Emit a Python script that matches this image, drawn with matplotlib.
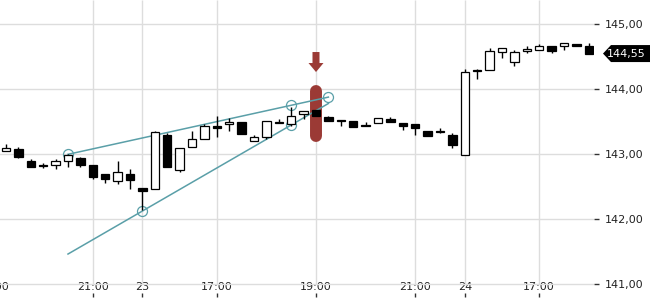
import matplotlib
matplotlib.use("Agg")
import matplotlib.pyplot as plt
import matplotlib.transforms as mtransforms
from matplotlib.patches import Polygon
import numpy as np

# ---- data ----
opens = [143.051, 143.082, 142.897, 142.836, 142.831, 142.892, 142.943, 142.836,
         142.692, 142.585, 142.694, 142.482, 142.459, 143.297, 142.766, 143.105,
         143.231, 143.428, 143.459, 143.492, 143.212, 143.274, 143.497, 143.459,
         143.620, 143.682, 143.574, 143.532, 143.512, 143.451, 143.486, 143.543,
         143.482, 143.466, 143.363, 143.359, 143.292, 142.989, 144.297, 144.292,
         144.571, 144.425, 144.582, 144.608, 144.666, 144.669, 144.692, 144.659]
highs = [143.159, 143.113, 142.923, 142.874, 142.928, 143.005, 142.959, 142.843,
         142.697, 142.894, 142.769, 142.482, 143.354, 143.323, 143.092, 143.359,
         143.466, 143.597, 143.559, 143.492, 143.297, 143.508, 143.548, 143.728,
         143.662, 143.686, 143.589, 143.532, 143.512, 143.492, 143.566, 143.569,
         143.482, 143.466, 143.363, 143.409, 143.333, 144.308, 144.312, 144.631,
         144.631, 144.602, 144.669, 144.697, 144.666, 144.712, 144.697, 144.715]
lows = [143.051, 142.936, 142.800, 142.782, 142.779, 142.809, 142.808, 142.625,
        142.563, 142.539, 142.462, 142.143, 142.459, 142.809, 142.728, 143.105,
        143.231, 143.271, 143.363, 143.317, 143.212, 143.240, 143.485, 143.436,
        143.543, 143.582, 143.505, 143.440, 143.425, 143.428, 143.486, 143.497,
        143.374, 143.302, 143.286, 143.333, 143.097, 142.989, 144.154, 144.292,
        144.477, 144.366, 144.566, 144.608, 144.566, 144.612, 144.669, 144.550]
closes = [143.097, 142.966, 142.800, 142.820, 142.897, 142.989, 142.828, 142.655,
          142.625, 142.723, 142.600, 142.443, 143.336, 142.809, 143.092, 143.231,
          143.436, 143.405, 143.492, 143.317, 143.266, 143.508, 143.485, 143.597,
          143.662, 143.597, 143.505, 143.520, 143.425, 143.428, 143.566, 143.497,
          143.428, 143.409, 143.286, 143.349, 143.148, 144.262, 144.282, 144.597,
          144.631, 144.571, 144.620, 144.674, 144.586, 144.712, 144.669, 144.550]

tick_pos = [-1, 7, 11, 17, 25, 33, 37, 43]
tick_labels = ["19:00", "21:00", "23", "17:00", "19:00", "21:00", "24", "17:00"]
y_ticks = [141, 142, 143, 144, 145]
y_tick_labels = ["141,00", "142,00", "143,00", "144,00", "145,00"]

# trend lines (candle index, price)
upper_line_x = [5, 26]
upper_line_y = [143.00, 143.88]
lower_line_x = [5, 26]
lower_line_y = [141.466, 143.782]
circle_x = [5, 23, 26, 11, 23]
circle_y = [143.00, 143.754, 143.88, 142.128, 143.451]

signal_x = 25
pill_range = [143.286, 143.974]
arrow_tip = 144.266
last_price_label = "144,55"

# ---- figure ----
W, H = 650, 300
fig = plt.figure(figsize=(W / 100, H / 100), dpi=100)
ax = fig.add_axes([-10 / W, 3 / H, 604 / W, 297 / H])
ax.set_xlim(-1.29, 47.42)
ax.set_ylim(140.805, 145.374)
for s in ax.spines.values():
    s.set_visible(False)

grid_c = "#dddddd"
ax.set_yticks(y_ticks)
ax.set_yticklabels(y_tick_labels)
ax.yaxis.tick_right()
ax.tick_params(axis="y", direction="out", length=3.6, width=1, color="#333333",
               labelsize=8, labelcolor="#222222", pad=4.5)
ax.grid(axis="y", color=grid_c, lw=1.0, zorder=0)
ax.set_xticks(tick_pos)
ax.set_xticklabels(tick_labels)
ax.tick_params(axis="x", direction="in", length=3, width=1, color="#333333",
               labelsize=8, labelcolor="#222222", pad=-10.5)
ax.vlines(tick_pos, 141.0, 145.374, color=grid_c, lw=1.0, zorder=0)

# ---- signal pill ----
ax.plot([signal_x, signal_x], pill_range, lw=8.6, solid_capstyle="round",
        color="#9b3a35", zorder=2)

# ---- trend lines ----
tc = "#5a9fa8"
ax.plot(upper_line_x, upper_line_y, color=tc, lw=1.1, zorder=3)
ax.plot(lower_line_x, lower_line_y, color=tc, lw=1.1, zorder=3)
ax.plot(circle_x, circle_y, "o", ms=7.2, mfc="none", mec=tc, mew=0.9, zorder=3)

# ---- candles ----
x = np.arange(len(opens))
o = np.array(opens); c = np.array(closes)
ax.vlines(x, lows, highs, color="black", lw=1.0, zorder=4)
up = c >= o
bottoms = np.minimum(o, c)
heights = np.maximum(np.abs(c - o), 0.004)
ax.bar(x[up], heights[up], bottom=bottoms[up], width=0.68, facecolor="white",
       edgecolor="black", lw=0.9, zorder=5)
ax.bar(x[~up], heights[~up], bottom=bottoms[~up], width=0.68, facecolor="black",
       edgecolor="black", lw=0.9, zorder=5)

# ---- red arrow ----
t_arrow = fig.dpi_scale_trans + mtransforms.ScaledTranslation(signal_x, arrow_tip, ax.transData)
verts = np.array([(0, 0), (-7.5, 9), (-3.5, 9), (-3.5, 20), (3.5, 20), (3.5, 9), (7.5, 9)]) / 100
ax.add_patch(Polygon(verts, closed=True, transform=t_arrow, facecolor="#9b3a35",
                     edgecolor="none", zorder=6, clip_on=False))

# ---- last price tag ----
last = closes[-1]
t_tag = fig.dpi_scale_trans + mtransforms.ScaledTranslation(0, last, ax.transData)
tag = np.array([(597, 0), (605, 8.5), (650, 8.5), (650, -8.5), (605, -8.5)]) / 100
ax.add_patch(Polygon(tag, closed=True, transform=t_tag, facecolor="black",
                     edgecolor="none", zorder=7, clip_on=False))
ax.text(626 / W, last, last_price_label, color="white", fontsize=8, ha="center",
        va="center", transform=mtransforms.blended_transform_factory(fig.transFigure, ax.transData),
        zorder=8, clip_on=False)

fig.savefig("out.png", dpi=100)
